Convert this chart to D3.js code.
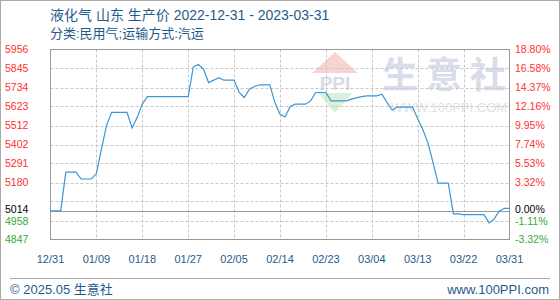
<!DOCTYPE html>
<html>
<head>
<meta charset="utf-8">
<script src="https://cdn.jsdelivr.net/npm/d3@7"></script>
<style>
  body { margin: 0; background: #fff; }
  svg { display: block; }
  text { font-family: "Liberation Sans", "Noto Sans CJK SC", sans-serif; }
</style>
</head>
<body>
<div id="vis"></div>
<script>
// Chart data
const startDate = '2022-12-31';
const baseValue = 5014;
const prices = [
    5014, 5014, 5014, 5240, 5240, 5240, 5200, 5200, 5200, 5232,
    5378, 5515, 5589, 5589, 5589, 5589, 5498, 5560, 5637, 5681,
    5681, 5681, 5681, 5681, 5681, 5681, 5681, 5681, 5855, 5868,
    5841, 5763, 5777, 5792, 5777, 5777, 5777, 5705, 5676, 5724,
    5740, 5750, 5750, 5750, 5646, 5578, 5562, 5623, 5637, 5637,
    5637, 5656, 5705, 5705, 5705, 5656, 5656, 5656, 5656, 5666,
    5674, 5681, 5685, 5685, 5685, 5695, 5646, 5603, 5620, 5620,
    5620, 5620, 5552, 5489, 5411, 5297, 5176, 5176, 5176, 4997,
    4997, 4992, 4992, 4992, 4992, 4992, 4944, 4967, 5014, 5029,
    5029
];
const gridValues = [4847, 4957.9, 5068.8, 5179.7, 5290.6, 5401.5, 5512.4, 5623.3, 5734.2, 5845.1, 5956];
const leftLabels = ['4847', '4958', '', '5180', '5291', '5402', '5512', '5623', '5734', '5845', '5956'];
const rightLabels = ['-3.32%', '-1.11%', '', '3.32%', '5.53%', '7.74%', '9.95%', '12.16%', '14.37%', '16.58%', '18.80%'];
const xTickLabels = ['12/31', '01/09', '01/18', '01/27', '02/05', '02/14', '02/23', '03/04', '03/13', '03/22', '03/31'];

const titleText = '液化气 山东 生产价 2022-12-31 - 2023-03-31';
const subTitleText = '分类:民用气;运输方式:汽运';

const W = 560, H = 300;
const plot = { left: 50.5, right: 509.5, top: 49.5, bottom: 239.5 };
const blueText = '#1f5c8c';

const parseDay = d3.timeParse('%Y-%m-%d');
const day0 = parseDay(startDate);
const data = prices.map((v, i) => ({ date: d3.timeDay.offset(day0, i), value: v }));

const svg = d3.select('#vis').append('svg')
    .attr('width', W).attr('height', H);

// outer frame
svg.append('rect')
    .attr('x', 0.5).attr('y', 0.5).attr('width', W - 1).attr('height', H - 1)
    .attr('fill', '#fff').attr('stroke', '#aaa');

const xScale = d3.scaleTime()
    .domain([day0, d3.timeDay.offset(day0, prices.length - 1)])
    .range([plot.left, plot.right]);
const yScale = d3.scaleLinear()
    .domain([gridValues[0], gridValues[gridValues.length - 1]])
    .range([plot.bottom, plot.top]);

const xTicks = xTickLabels.map((d, i) => d3.timeDay.offset(day0, i * 9));

// watermark
const wm = svg.append('g').attr('class', 'watermark');
wm.append('path')
    .attr('d', 'M312,73 L335,52 L358,73 Z')
    .attr('fill', '#f5c9c4').attr('opacity', 0.8);
wm.append('path')
    .attr('d', 'M318,93 L335,113 L352,93 Z')
    .attr('fill', '#cfeccf').attr('opacity', 0.8);
wm.append('text')
    .attr('x', 335).attr('y', 90)
    .attr('text-anchor', 'middle')
    .attr('font-size', 19).attr('font-weight', 'bold')
    .attr('fill', '#d6dbe8')
    .text('PPI');
wm.append('text')
    .attr('x', 448).attr('y', 88)
    .attr('text-anchor', 'middle')
    .attr('font-family', '"Noto Sans CJK SC"')
    .attr('font-size', 36).attr('font-weight', 'bold')
    .attr('letter-spacing', 8)
    .attr('fill', '#d8dde9')
    .text('生意社');
wm.append('text')
    .attr('x', 449).attr('y', 112)
    .attr('text-anchor', 'middle')
    .attr('font-size', 13)
    .attr('fill', '#e2e2e2')
    .text('WWW.100PPI.COM');

// grid
svg.append('g')
    .selectAll('line')
    .data(gridValues.slice(1, -1))
    .join('line')
    .attr('x1', plot.left).attr('x2', plot.right)
    .attr('y1', d => Math.round(yScale(d)) + 0.5).attr('y2', d => Math.round(yScale(d)) + 0.5)
    .attr('stroke', '#c8c8c8').attr('stroke-dasharray', '3,2');

svg.append('g')
    .selectAll('line')
    .data(xTicks.slice(1, -1))
    .join('line')
    .attr('x1', d => Math.round(xScale(d)) + 0.5).attr('x2', d => Math.round(xScale(d)) + 0.5)
    .attr('y1', plot.top).attr('y2', plot.bottom)
    .attr('stroke', '#c8c8c8').attr('stroke-dasharray', '3,2');

// base line
svg.append('line')
    .attr('x1', plot.left).attr('x2', plot.right)
    .attr('y1', Math.round(yScale(baseValue)) + 0.5).attr('y2', Math.round(yScale(baseValue)) + 0.5)
    .attr('stroke', '#999');

// frame of plot
svg.append('rect')
    .attr('x', plot.left).attr('y', plot.top)
    .attr('width', plot.right - plot.left).attr('height', plot.bottom - plot.top)
    .attr('fill', 'none').attr('stroke', '#999');

// price line
const line = d3.line()
    .x(d => xScale(d.date))
    .y(d => yScale(d.value));

svg.append('path')
    .datum(data)
    .attr('d', line)
    .attr('fill', 'none')
    .attr('stroke', '#3a96d6')
    .attr('stroke-width', 1.2);

// y labels (base label nudged up, the one below nudged down, so they don't collide)
const labelColor = v => v > baseValue ? '#ff3030' : '#33aa33';
const yLabels = gridValues.map((v, i) => ({ v, left: leftLabels[i], right: rightLabels[i], shift: i === 1 ? 1.3 : 0 }))
    .filter(d => d.left !== '');
yLabels.push({ v: baseValue, left: String(baseValue), right: '0.00%', shift: -1.4 });

svg.append('g')
    .selectAll('text')
    .data(yLabels)
    .join('text')
    .attr('x', 5)
    .attr('y', d => yScale(d.v) + d.shift)
    .attr('dy', '0.35em')
    .attr('font-size', 10.5)
    .attr('fill', d => d.v === baseValue ? '#000' : labelColor(d.v))
    .text(d => d.left);

svg.append('g')
    .selectAll('text')
    .data(yLabels)
    .join('text')
    .attr('x', 515)
    .attr('y', d => yScale(d.v) + d.shift)
    .attr('dy', '0.35em')
    .attr('font-size', 10.5)
    .attr('fill', d => d.v === baseValue ? '#000' : labelColor(d.v))
    .text(d => d.right);

// x axis labels
svg.append('g')
    .selectAll('text')
    .data(xTicks)
    .join('text')
    .attr('x', d => xScale(d))
    .attr('y', 259)
    .attr('dy', '0.35em')
    .attr('text-anchor', 'middle')
    .attr('font-size', 11)
    .attr('fill', blueText)
    .text((d, i) => xTickLabels[i]);

// titles
svg.append('text')
    .attr('x', 50).attr('y', 20)
    .attr('font-size', 14)
    .attr('fill', blueText)
    .text(titleText);
svg.append('text')
    .attr('x', 50).attr('y', 38)
    .attr('font-size', 13)
    .attr('fill', blueText)
    .text(subTitleText);

// footer
svg.append('line')
    .attr('x1', 10).attr('x2', 550)
    .attr('y1', 278.5).attr('y2', 278.5)
    .attr('stroke', '#aaa');
svg.append('text')
    .attr('x', 10).attr('y', 289).attr('dy', '0.35em')
    .attr('font-size', 13)
    .attr('fill', blueText)
    .text('© 2025.05 生意社');
svg.append('text')
    .attr('x', 549).attr('y', 289).attr('dy', '0.35em')
    .attr('text-anchor', 'end')
    .attr('font-size', 13)
    .attr('fill', blueText)
    .text('www.100PPI.com');
</script>
</body>
</html>
